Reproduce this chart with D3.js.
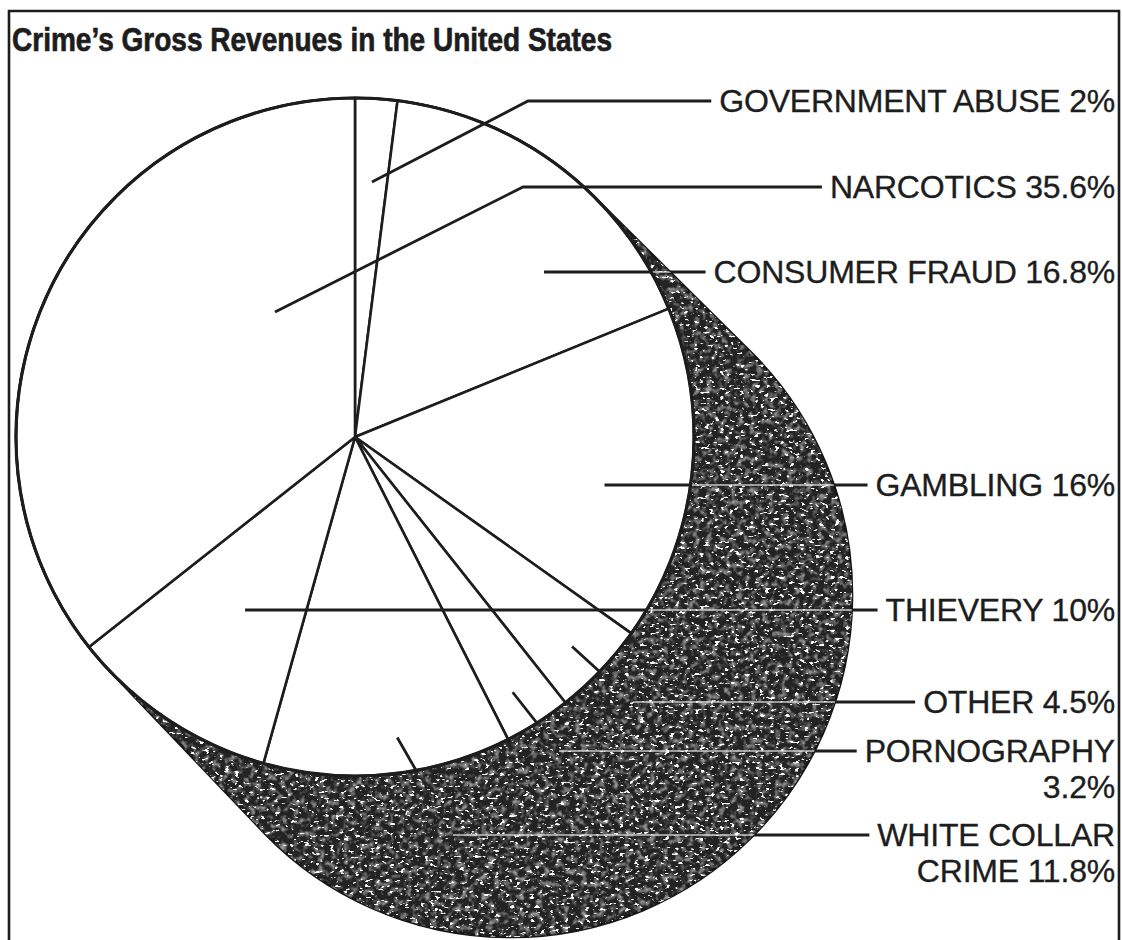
<!DOCTYPE html>
<html>
<head>
<meta charset="utf-8">
<script src="https://cdn.jsdelivr.net/npm/d3@7"></script>
<style>
  body { margin: 0; background: #fff; }
  svg { display: block; }
</style>
</head>
<body>
<div id="chart"></div>
<script>
// slices, clockwise from 12 o'clock
const categories = ["GOVERNMENT ABUSE", "CONSUMER FRAUD", "GAMBLING", "OTHER", "PORNOGRAPHY", "WHITE COLLAR CRIME", "THIEVERY", "NARCOTICS"];
const shares = [2, 16.8, 16, 4.5, 3.2, 11.8, 10, 35.6];
// label text, split in lines as printed
const labelLines = [
  ["GOVERNMENT ABUSE 2%"], ["CONSUMER FRAUD 16.8%"], ["GAMBLING 16%"], ["OTHER 4.5%"],
  ["PORNOGRAPHY", "3.2%"], ["WHITE COLLAR", "CRIME 11.8%"], ["THIEVERY 10%"], ["NARCOTICS 35.6%"]
];
const title = "Crime\u2019s Gross Revenues in the United States";

// layout
const W = 1122, H = 940;
const cx = 355, cy = 437, R = 339;
const shadowDx = 155, shadowDy = 158, R2 = 342;
const labelRight = 1115;
// leader layout per label: row y, anchor (deg, fraction of radius), x where leader meets the row
const rowY   = [101, 272, 485, 702, 751, 835, 610, 187];
const anchA  = [3.8, 48.9, 101.1, 134, 148.3, 172, 212.4, 327.4];
const anchR  = [0.754, 0.74, 0.75, 0.89, 0.885, 0.895, 0.605, 0.438];
const elbowX = [528, null, null, 633, 559, 453, null, 523];
const ink = "#1d1d1d";

const svg = d3.select("#chart").append("svg")
  .attr("width", W).attr("height", H)
  .style("font-family", "'Liberation Sans', Arial, Helvetica, sans-serif");

const defs = svg.append("defs");

// speckled ink for the shadow
const fSpeck = defs.append("filter").attr("id", "speck")
  .attr("x", "-5%").attr("y", "-5%").attr("width", "110%").attr("height", "110%");
fSpeck.append("feTurbulence").attr("type", "fractalNoise")
  .attr("baseFrequency", "0.2 0.34").attr("numOctaves", 2).attr("seed", 7).attr("result", "n");
fSpeck.append("feColorMatrix").attr("in", "n").attr("type", "matrix")
  .attr("values", "0 0 0 0 1  0 0 0 0 1  0 0 0 0 1  14 0 0 0 -8.8").attr("result", "w");
fSpeck.append("feComposite").attr("in", "w").attr("in2", "SourceGraphic").attr("operator", "in");

const fMottle = defs.append("filter").attr("id", "mottle")
  .attr("x", "-5%").attr("y", "-5%").attr("width", "110%").attr("height", "110%");
fMottle.append("feTurbulence").attr("type", "fractalNoise")
  .attr("baseFrequency", "0.16").attr("numOctaves", 2).attr("seed", 2).attr("result", "n");
fMottle.append("feColorMatrix").attr("in", "n").attr("type", "matrix")
  .attr("values", "0 0 0 0 0.3  0 0 0 0 0.3  0 0 0 0 0.3  3 0 0 0 -1.4").attr("result", "g");
fMottle.append("feComposite").attr("in", "g").attr("in2", "SourceGraphic").attr("operator", "in");

// hull of the pie and its offset copy
const len = Math.hypot(shadowDx, shadowDy);
const ux = shadowDx / len, uy = shadowDy / len;
const px = uy, py = -ux; // towards upper right
const c2x = cx + shadowDx, c2y = cy + shadowDy;
const hullPath = [
  "M", cx + R * px, cy + R * py,
  "L", c2x + R2 * px, c2y + R2 * py,
  "A", R2, R2, 0, 1, 1, c2x - R2 * px, c2y - R2 * py,
  "L", cx - R * px, cy - R * py,
  "A", R, R, 0, 1, 1, cx + R * px, cy + R * py, "Z"
].join(" ");

defs.append("clipPath").attr("id", "hullClip").append("path").attr("d", hullPath);
defs.append("clipPath").attr("id", "pieClip").append("circle")
  .attr("cx", cx).attr("cy", cy).attr("r", R);

const polar = (deg, r) => {
  const a = deg * Math.PI / 180;
  return [cx + r * Math.sin(a), cy - r * Math.cos(a)];
};

// labels first, to measure where the leader lines end
const labels = svg.append("g");
const labelStart = [];
labelLines.forEach((lines, i) => {
  const t = labels.append("text")
    .attr("text-anchor", "end")
    .attr("font-size", 32)
    .attr("letter-spacing", -0.2)
    .attr("fill", ink)
    .attr("stroke", ink).attr("stroke-width", 0.35);
  lines.forEach((s, j) => {
    t.append("tspan").attr("x", labelRight).attr("y", rowY[i] + 11 + j * 36).text(s);
  });
  const first = t.select("tspan").node();
  labelStart.push(labelRight - first.getComputedTextLength());
});

const leaders = categories.map((c, i) => {
  const p0 = polar(anchA[i], anchR[i] * R);
  const pts = [p0];
  if (elbowX[i] !== null) pts.push([elbowX[i], rowY[i]]);
  else pts[0] = [p0[0], rowY[i]];
  pts.push([labelStart[i] - 8, rowY[i]]);
  return pts;
});
// only the row part shows up across the shadow
const rowParts = leaders.map(pts => pts.slice(-2));
const line = d3.line();

// a. leaders in black (outside everything)
const gLead = svg.insert("g", ":first-child");
gLead.selectAll("path").data(leaders).enter().append("path")
  .attr("d", line).attr("fill", "none").attr("stroke", ink).attr("stroke-width", 2.8);

// b. the dark shadow
const gShadow = svg.insert("g", "g:nth-of-type(2)");
gShadow.append("path").attr("d", hullPath).attr("fill", "#232323").attr("stroke", "#161616").attr("stroke-width", 2.5);
gShadow.append("path").attr("d", hullPath).attr("fill", "#000").attr("filter", "url(#mottle)");
gShadow.append("path").attr("d", hullPath).attr("fill", "#000").attr("filter", "url(#speck)");

// c. leaders showing white across the shadow
gShadow.append("g").attr("clip-path", "url(#hullClip)")
  .selectAll("path").data(rowParts).enter().append("path")
  .attr("d", line).attr("fill", "none").attr("stroke", "#eee")
  .attr("stroke-width", 1.5).attr("opacity", 0.8);

// d. the pie
const pie = d3.pie().sort(null).startAngle(0).endAngle(2 * Math.PI);
const arc = d3.arc().innerRadius(0).outerRadius(R);
const gPie = gShadow.append("g").attr("transform", `translate(${cx},${cy})`);
gPie.selectAll("path").data(pie(shares)).enter().append("path")
  .attr("d", arc).attr("fill", "#fff").attr("stroke", ink)
  .attr("stroke-width", 2.6).attr("stroke-linejoin", "round");
gPie.append("circle").attr("r", R).attr("fill", "none").attr("stroke", ink).attr("stroke-width", 3.2);

// e. leaders in black inside the pie
gShadow.append("g").attr("clip-path", "url(#pieClip)")
  .selectAll("path").data(leaders).enter().append("path")
  .attr("d", line).attr("fill", "none").attr("stroke", ink).attr("stroke-width", 2.8);

// title
svg.append("text")
  .attr("x", 12).attr("y", 51)
  .attr("font-size", 34).attr("font-weight", "bold").attr("fill", ink)
  .attr("stroke", ink).attr("stroke-width", 0.7)
  .attr("textLength", 600).attr("lengthAdjust", "spacingAndGlyphs")
  .text(title);

// frame
svg.append("path")
  .attr("d", `M9,${H} L9,11 L1119,11 L1119,${H}`)
  .attr("fill", "none").attr("stroke", ink).attr("stroke-width", 2.6);
</script>
</body>
</html>
